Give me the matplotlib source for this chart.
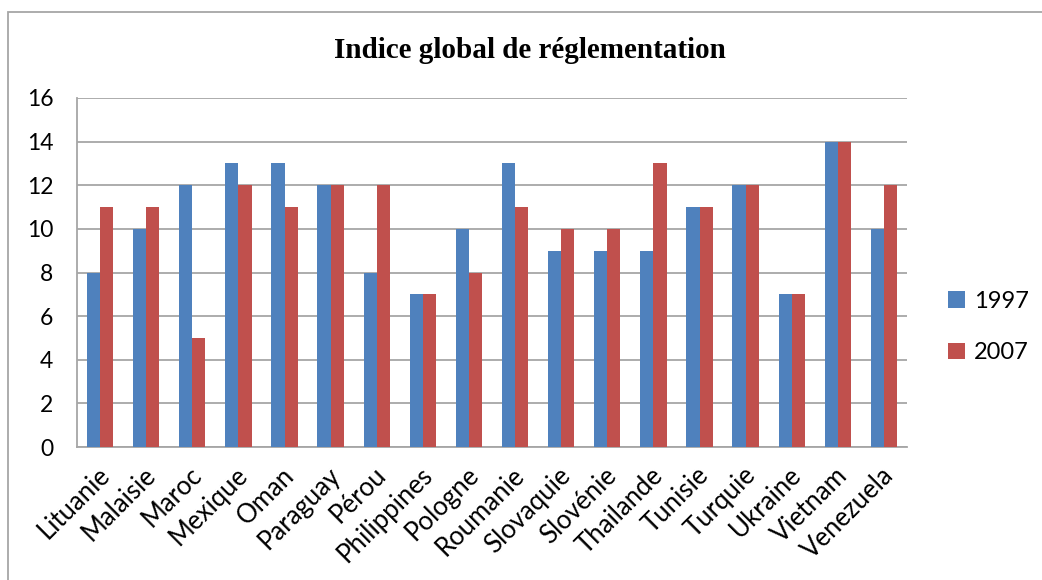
import matplotlib
matplotlib.use("Agg")
import matplotlib.pyplot as plt
import matplotlib.transforms as mtransforms
import numpy as np
from matplotlib.patches import Rectangle

categories = ["Lituanie", "Malaisie", "Maroc", "Mexique", "Oman", "Paraguay", "Pérou",
              "Philippines", "Pologne", "Roumanie", "Slovaquie", "Slovénie", "Thailande",
              "Tunisie", "Turquie", "Ukraine", "Vietnam", "Venezuela"]
v1997 = [8, 10, 12, 13, 13, 12, 8, 7, 10, 13, 9, 9, 9, 11, 12, 7, 14, 10]
v2007 = [11, 11, 5, 12, 11, 12, 12, 7, 8, 11, 10, 10, 13, 11, 12, 7, 14, 12]
yticks = [0, 2, 4, 6, 8, 10, 12, 14, 16]

font = ["Lato", "DejaVu Sans"]
fig = plt.figure(figsize=(10.42, 5.8), dpi=100)
ax = fig.add_axes([77/1042, 1-447/580, (907-77)/1042, (447-98)/580])

x = np.arange(len(categories))
w = 0.285
ax.bar(x - w/2, v1997, w, color="#4F81BD", label="1997", zorder=3)
ax.bar(x + w/2, v2007, w, color="#C0504D", label="2007", zorder=3)

ax.set_xlim(-0.5, len(categories) - 0.5)
ax.set_ylim(0, 16)
ax.set_yticks(yticks)
ax.set_yticklabels([str(t) for t in yticks], fontsize=16.5, family=font)
ax.set_xticks(x)
ax.set_xticklabels(categories, rotation=45, ha="right", rotation_mode="anchor",
                   fontsize=18.5, family=font)
ax.tick_params(axis="x", length=0, pad=9)
ax.tick_params(axis="y", length=0, pad=17)
offset = mtransforms.ScaledTranslation(-3/100, -3/100, fig.dpi_scale_trans)
for lbl in ax.get_xticklabels():
    lbl.set_transform(lbl.get_transform() + offset)
ax.grid(axis="y", color="#A6A6A6", linewidth=1.3, zorder=0)
for s in ["top", "right"]:
    ax.spines[s].set_visible(False)
for s in ["left", "bottom"]:
    ax.spines[s].set_color("#A6A6A6")
    ax.spines[s].set_linewidth(1.3)

fig.text(530/1042, 1-50/580, "Indice global de réglementation", ha="center", va="center",
         fontsize=21, fontweight="bold", family=["Liberation Serif", "DejaVu Serif"])

leg = ax.legend(loc="center left", bbox_to_anchor=(927/1042, 1-327/580),
                bbox_transform=fig.transFigure, frameon=False,
                prop={"family": "Lato", "size": 17}, handlelength=0.7, handleheight=0.7,
                labelspacing=1.3, handletextpad=0.4)

fig.patches.append(Rectangle((8/1042, -0.05), 1.2, 1 - 12/580 + 0.05, transform=fig.transFigure,
                             fill=False, edgecolor="#A6A6A6", linewidth=1.3))

fig.savefig("out.png", dpi=100)
